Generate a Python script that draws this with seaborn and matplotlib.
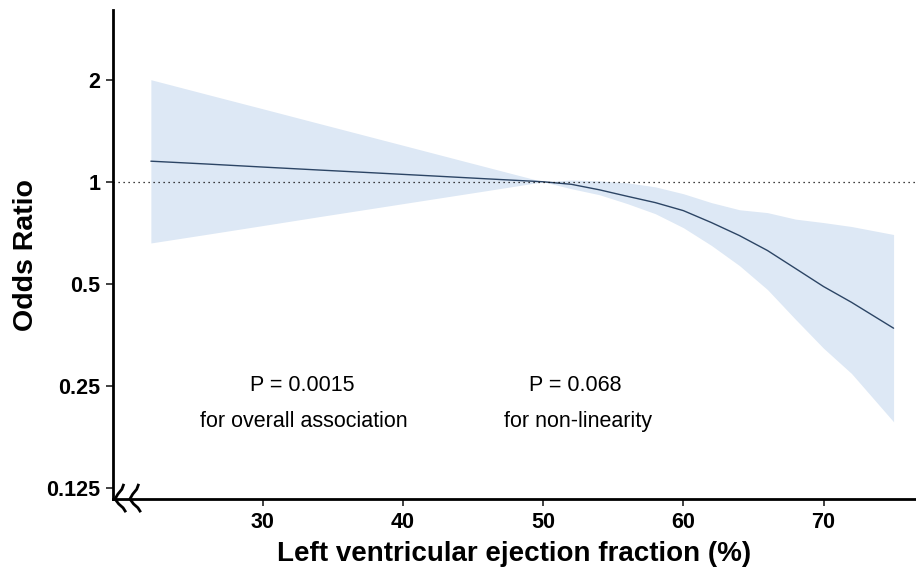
import numpy as np
import pandas as pd
import matplotlib
matplotlib.use("Agg")
import matplotlib.pyplot as plt
import matplotlib.ticker as mticker
import seaborn as sns

# ejection fraction (%) and the spline estimate with its 95% band (odds ratio)
lvef = [22, 26, 30, 34, 38, 42, 46, 50, 52, 54, 56, 58, 60, 62, 64, 66, 68, 70, 72, 75]
or_est = [1.15, 1.128, 1.105, 1.083, 1.062, 1.041, 1.020, 1.0,
          0.983, 0.947, 0.906, 0.868, 0.822, 0.758, 0.694, 0.627, 0.555, 0.491, 0.441, 0.370]
or_upper = [2.0, 1.811, 1.641, 1.486, 1.346, 1.219, 1.104, 1.0,
            1.012, 1.006, 0.993, 0.966, 0.922, 0.868, 0.827, 0.811, 0.776, 0.758, 0.738, 0.699]
or_lower = [0.66, 0.700, 0.743, 0.789, 0.837, 0.888, 0.942, 1.0,
            0.954, 0.916, 0.862, 0.805, 0.732, 0.649, 0.566, 0.481, 0.393, 0.323, 0.272, 0.196]

y_ticks = [0.125, 0.25, 0.5, 1, 2]
y_tick_labels = ["0.125", "0.25", "0.5", "1", "2"]
x_ticks = [30, 40, 50, 60, 70]

df = pd.DataFrame({"lvef": lvef, "or": or_est, "lo": or_lower, "hi": or_upper})

sns.set_style("ticks")
plt.rcParams["font.family"] = ["Liberation Sans", "DejaVu Sans"]
plt.rcParams["text.color"] = "black"
plt.rcParams["axes.labelcolor"] = "black"
plt.rcParams["xtick.color"] = "black"
plt.rcParams["ytick.color"] = "black"

fig = plt.figure(figsize=(9.16, 5.72), dpi=100)
ax = fig.add_axes([0.1234, 0.1276, 0.8766, 0.8549])

ax.fill_between(df["lvef"], df["lo"], df["hi"], color="#dde8f5", linewidth=0)
sns.lineplot(data=df, x="lvef", y="or", ax=ax, color="#2c4565", linewidth=1.0)
ax.axhline(1, color="black", linestyle=(0, (1, 3)), linewidth=0.9)

ax.set_yscale("log", base=2)
ax.set_ylim(0.116, 3.21)
ax.set_xlim(19.3, 76.6)
ax.yaxis.set_major_locator(mticker.FixedLocator(y_ticks))
ax.yaxis.set_minor_locator(mticker.NullLocator())
ax.set_yticks(y_ticks)
ax.set_yticklabels(y_tick_labels)
ax.set_xticks(x_ticks)

for lab in ax.get_xticklabels() + ax.get_yticklabels():
    lab.set_fontweight("bold")
    lab.set_fontsize(15.5)
ax.tick_params(axis="both", length=5, width=1.3, color="#333333", pad=4)

ax.set_xlabel("Left ventricular ejection fraction (%)", fontsize=20, fontweight="bold", labelpad=6)
ax.set_ylabel("Odds Ratio", fontsize=20.5, fontweight="bold", labelpad=5)

sns.despine(ax=ax)
for side in ["left", "bottom"]:
    ax.spines[side].set_linewidth(2)
    ax.spines[side].set_color("black")

# p-value annotations
ax.text(32.8, 0.25, "P = 0.0015", ha="center", va="center", fontsize=15.5)
ax.text(32.9, 0.197, "for overall association", ha="center", va="center", fontsize=15.5)
ax.text(52.3, 0.25, "P = 0.068", ha="center", va="center", fontsize=15.5)
ax.text(52.5, 0.197, "for non-linearity", ha="center", va="center", fontsize=15.5)

# axis-break marks near the origin
for dx in [0.0, 0.0185]:
    xs = np.array([0.0135, 0.0110, 0.0060, 0.0025, 0.0070, 0.0125, 0.0160]) + dx
    ys = np.array([0.031, 0.020, 0.010, 0.0, -0.010, -0.018, -0.027])
    ax.plot(xs, ys, transform=ax.transAxes, color="black", linewidth=2, clip_on=False,
            solid_capstyle="butt")

fig.savefig("out.png", dpi=100)
